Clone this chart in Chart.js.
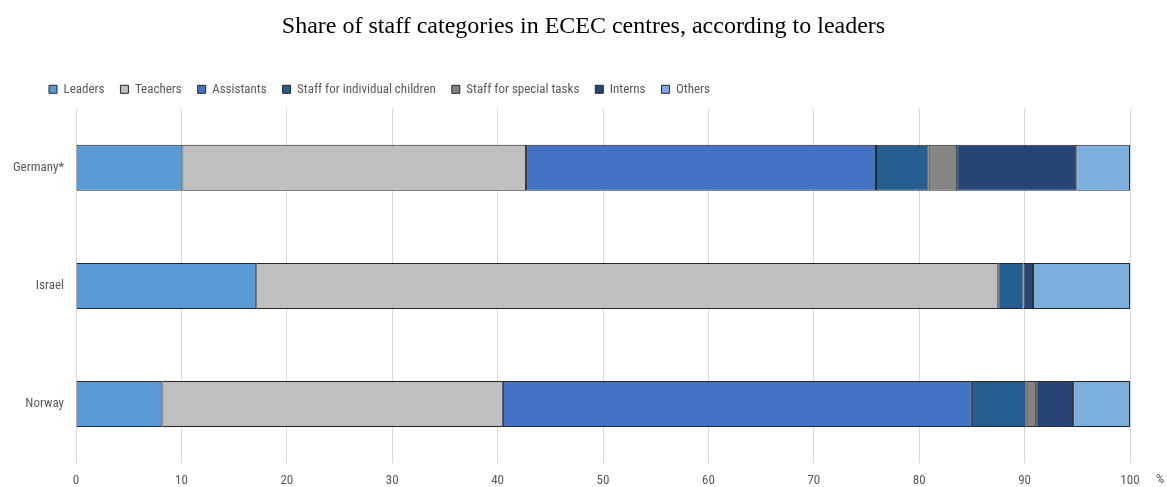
<!DOCTYPE html>
<html><head><meta charset="utf-8">
<script src="https://cdn.jsdelivr.net/npm/chart.js@4/dist/chart.umd.min.js"></script>
<style>html,body{margin:0;padding:0;background:#fff;}#wrap{width:1167px;height:487px;}</style>
</head><body><div id="wrap"><canvas id="c" width="1167" height="487"></canvas></div>
<script>
const countries = ["Germany*", "Israel", "Norway"];
const leaders     = [10.1, 17.1, 8.2];
const teachers    = [32.6, 70.4, 32.3];
const assistants  = [33.2, 0, 44.5];
const individual  = [5.0, 2.4, 5.2];
const specialTasks= [2.7, 0, 0.9];
const interns     = [11.3, 0.9, 3.5];
const others      = [5.1, 9.2, 5.4];
const xTicks = [0,10,20,30,40,50,60,70,80,90,100];

const FONT = "'Liberation Sans Narrow','Arial Narrow','Roboto Condensed','Liberation Sans',sans-serif";
const mk = (label, data, color) => ({label, data, backgroundColor: color, borderColor: '#262626', borderWidth: 1, borderSkipped: false, barPercentage: 0.39, categoryPercentage: 1});

const pctPlugin = {
  id: 'pct',
  afterLayout(chart){
    chart.legend.left = 33;
    chart.legend.top -= 3;
    chart.titleBlock.left = 0; chart.titleBlock.right = 1167;
  },
  afterDraw(chart){
    const ctx = chart.ctx, xs = chart.scales.x;
    ctx.save();
    ctx.font = "13px " + FONT;
    ctx.fillStyle = '#595959';
    ctx.textAlign = 'left'; ctx.textBaseline = 'middle';
    ctx.fillText('%', xs.right + 26, xs.top + 17);
    ctx.restore();
  }
};

new Chart(document.getElementById('c'), {
  type: 'bar',
  data: {
    labels: countries,
    datasets: [
      mk('Leaders', leaders, '#5B9BD5'),
      mk('Teachers', teachers, '#BFBFBF'),
      mk('Assistants', assistants, '#4472C4'),
      mk('Staff for individual children', individual, '#255E91'),
      mk('Staff for special tasks', specialTasks, '#858585'),
      mk('Interns', interns, '#264478'),
      mk('Others', others, '#7CAFDD')
    ]
  },
  options: {
    indexAxis: 'y',
    responsive: false,
    animation: false,
    layout: {padding: {left: 0, right: 37, top: 0, bottom: 2}},
    plugins: {
      title: {display: true, text: 'Share of staff categories in ECEC centres, according to leaders',
        font: {family: "'Liberation Serif','Times New Roman',serif", size: 24, weight: 'normal'},
        color: '#000', padding: {top: 12, bottom: 29}},
      legend: {display: true, position: 'top', align: 'start',
        labels: {boxWidth: 8, boxHeight: 8, padding: 16, color: '#595959', font: {family: FONT, size: 13}}},
      tooltip: {enabled: false}
    },
    scales: {
      x: {stacked: true, min: 0, max: 100,
        afterBuildTicks(s){ s.ticks = xTicks.map(v => ({value: v})); },
        afterFit(s){ s.height = 22; },
        grid: {color: '#D9D9D9', drawTicks: false},
        border: {display: false},
        ticks: {color: '#595959', padding: 10, font: {family: FONT, size: 13}}},
      y: {stacked: true,
        afterFit(s){ s.width = 76; },
        grid: {display: false, drawTicks: false},
        border: {display: false},
        ticks: {color: '#595959', padding: 12, font: {family: FONT, size: 13}}}
    }
  },
  plugins: [pctPlugin]
});
</script></body></html>
